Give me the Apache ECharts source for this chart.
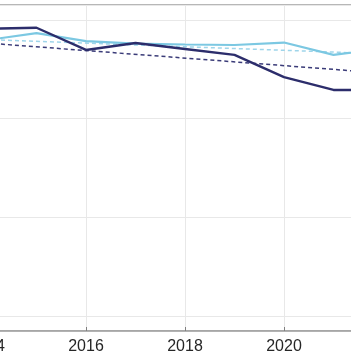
<!DOCTYPE html>
<html>
<head>
<meta charset="utf-8">
<style>
  html, body { margin: 0; padding: 0; background: #ffffff; }
  #chart { width: 351px; height: 351px; }
</style>
<script src="https://cdn.jsdelivr.net/npm/echarts@6/dist/echarts.min.js"></script>
</head>
<body>
<div id="chart"></div>
<script>
var years = [2014, 2015, 2016, 2017, 2018, 2019, 2020, 2021, 2022];
var darkValues = [78.2, 78.4, 73.9, 75.3, 74.1, 72.9, 68.4, 65.8, 65.8];
var lightValues = [75.9, 77.3, 75.7, 75.2, 75.0, 74.9, 75.4, 72.9, 74.2];
var trendYears = [2014, 2022];
var darkTrend = [75.3, 69.2];
var lightTrend = [76.0, 73.1];
var xTickLabels = ['2014', '2016', '2018', '2020', '2022'];

function pairs(xs, ys) {
  return xs.map(function (x, i) { return [x, ys[i]]; });
}

var chart = echarts.init(document.getElementById('chart'), null, { renderer: 'canvas' });
chart.setOption({
  animation: false,
  backgroundColor: '#ffffff',
  grid: {
    left: -13, right: -32, top: 5, bottom: 20,
    containLabel: false,
    outerBoundsMode: 'none',
    show: true, borderColor: '#a0a0a0', borderWidth: 1.5, backgroundColor: 'transparent'
  },
  xAxis: {
    type: 'value',
    min: 2014, max: 2022, interval: 2,
    axisLine: { show: true, lineStyle: { color: '#a0a0a0', width: 1.5 } },
    axisTick: { show: true, inside: true, length: 4, lineStyle: { color: '#808080' } },
    splitLine: { show: true, lineStyle: { color: '#e8e8e8', width: 1 } },
    axisLabel: {
      margin: 8,
      fontFamily: 'Liberation Sans, Arial, sans-serif',
      fontSize: 16,
      color: '#262626',
      formatter: function (v) {
        var s = String(Math.round(v));
        return xTickLabels.indexOf(s) >= 0 ? s : '';
      }
    }
  },
  yAxis: {
    type: 'value',
    min: 17, max: 83,
    minInterval: 20, maxInterval: 20,
    axisLine: { show: false },
    axisTick: { show: false },
    axisLabel: { show: false },
    splitLine: { show: true, lineStyle: { color: '#e8e8e8', width: 1 } }
  },
  series: [
    {
      type: 'line', data: pairs(trendYears, lightTrend), symbol: 'none',
      lineStyle: { color: '#9fd5ea', width: 1.5, type: [4, 3] }, z: 2
    },
    {
      type: 'line', data: pairs(trendYears, darkTrend), symbol: 'none',
      lineStyle: { color: '#3a3b78', width: 1.5, type: [4, 3] }, z: 2
    },
    {
      type: 'line', data: pairs(years, lightValues), symbol: 'none',
      lineStyle: { color: '#7cc8e2', width: 2.2 }, z: 3
    },
    {
      type: 'line', data: pairs(years, darkValues), symbol: 'none',
      lineStyle: { color: '#2c2d6b', width: 2.4 }, z: 4
    }
  ]
});
</script>
</body>
</html>
